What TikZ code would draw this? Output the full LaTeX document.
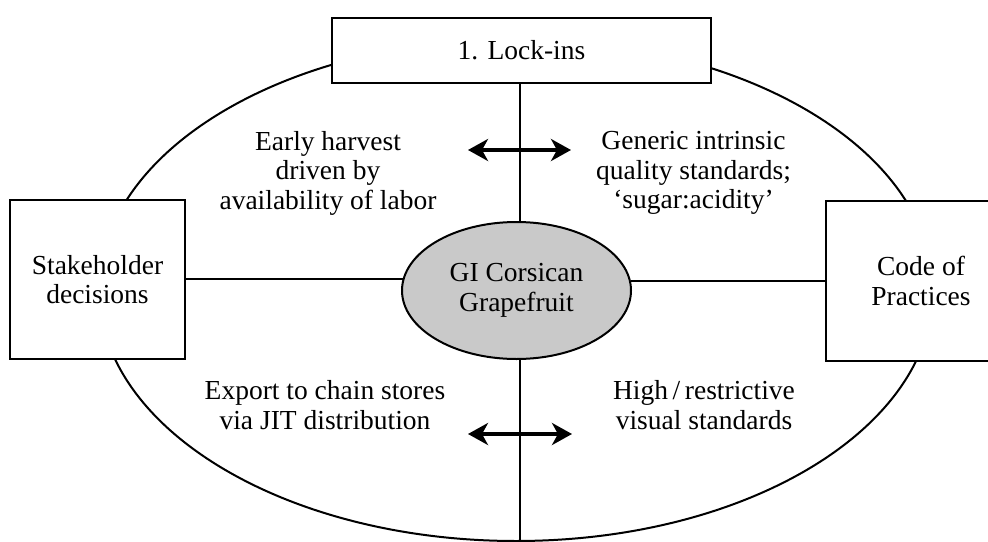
\documentclass[tikz,border=0pt]{standalone}
\usepackage{fontspec}
\setmainfont{Liberation Serif}
\usetikzlibrary{shapes.geometric,arrows.meta}
\begin{document}
\begin{tikzpicture}[x=1pt,y=-1pt,
  txt/.style={font=\fontsize{27.5}{29.5}\selectfont, align=center, inner sep=0pt},
  boxnode/.style={draw, line width=2pt, fill=white, rectangle, inner sep=0pt,
    font=\fontsize{27.5}{29.5}\selectfont, align=center},
  link/.style={line width=2pt},
  biarrow/.style={line width=3.8pt, {Stealth[length=20pt,width=22pt,inset=6pt]}-{Stealth[length=20pt,width=22pt,inset=6pt]}}
]
\useasboundingbox (0,0) rectangle (988,541);
\clip (0,0) rectangle (988,541);
\fill[white] (0,0) rectangle (988,541);
% outer ellipse
\draw[line width=2pt] (516,290) ellipse [x radius=417, y radius=251];
% nodes
\node[boxnode, minimum width=379pt, minimum height=65pt] (lock) at (521.5,50.5) {1. Lock-ins};
\node[boxnode, minimum width=175pt, minimum height=159pt] (stake) at (97.5,279.5) {Stakeholder\\decisions};
\node[boxnode, minimum width=190pt, minimum height=160pt] (code) at (921,281) {Code of\\Practices};
\node[draw, ellipse, line width=2pt, fill=gray!42, minimum width=229pt, minimum height=137pt, inner sep=0pt,
  font=\fontsize{27.5}{29.5}\selectfont, align=center] (gi) at (516.5,290.5) {GI Corsican\\Grapefruit};
% connectors
\coordinate (vx) at (520,0);
\coordinate (bot) at (520,541);
\draw[link] (lock.south -| vx) -- (gi.north -| vx);
\draw[link] (gi.south -| vx) -- (bot);
\draw[link] (gi.174.7) -- (stake.east |- gi.174.7);
\draw[link] (gi.5.3) -- (code.west |- gi.5.3);
% arrows
\coordinate (a1l) at (468,150);
\coordinate (a1r) at (571,150);
\coordinate (a2l) at (468,434);
\coordinate (a2r) at (572,434);
\draw[biarrow] (a1l) -- (a1r);
\draw[biarrow] (a2l) -- (a2r);
% texts
\node[txt] (t1) at (328,173) {Early harvest\\driven by\\availability of labor};
\node[txt] (t2) at (693.5,173) {Generic intrinsic\\quality standards;\\`sugar:acidity'};
\node[txt] (t3) at (325,405) {Export to chain stores\\via JIT distribution};
\node[txt] (t4) at (704,405) {High\,/\,restrictive\\visual standards};
\end{tikzpicture}
\end{document}
